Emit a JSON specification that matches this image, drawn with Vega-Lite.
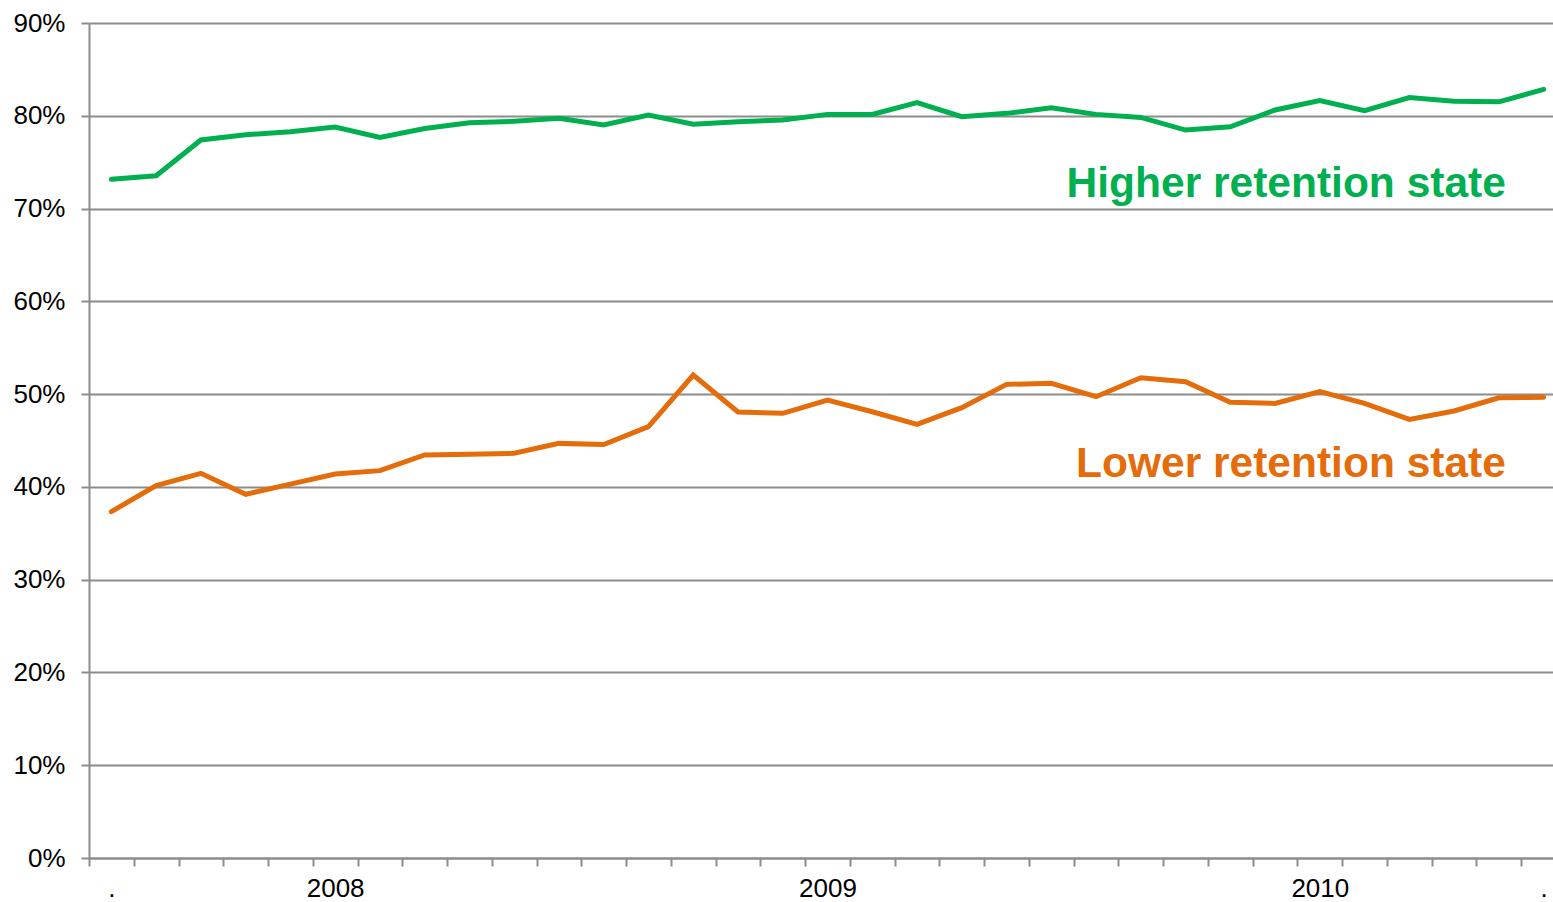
{
  "$schema": "https://vega.github.io/schema/vega-lite/v6.json",
  "autosize": {"type": "none"},
  "padding": {"left": 89, "top": 23, "right": 0, "bottom": 44},
  "width": 1464,
  "height": 835,
  "background": "white",
  "config": {"view": {"stroke": null}, "font": "Liberation Sans"},
  "data": {"values": [
    {"i": 0, "series": "Higher retention state", "value": 0.7315},
    {"i": 1, "series": "Higher retention state", "value": 0.7354},
    {"i": 2, "series": "Higher retention state", "value": 0.7739},
    {"i": 3, "series": "Higher retention state", "value": 0.7796},
    {"i": 4, "series": "Higher retention state", "value": 0.7828},
    {"i": 5, "series": "Higher retention state", "value": 0.7879},
    {"i": 6, "series": "Higher retention state", "value": 0.7767},
    {"i": 7, "series": "Higher retention state", "value": 0.7863},
    {"i": 8, "series": "Higher retention state", "value": 0.7925},
    {"i": 9, "series": "Higher retention state", "value": 0.794},
    {"i": 10, "series": "Higher retention state", "value": 0.7972},
    {"i": 11, "series": "Higher retention state", "value": 0.79},
    {"i": 12, "series": "Higher retention state", "value": 0.8007},
    {"i": 13, "series": "Higher retention state", "value": 0.791},
    {"i": 14, "series": "Higher retention state", "value": 0.7935},
    {"i": 15, "series": "Higher retention state", "value": 0.7954},
    {"i": 16, "series": "Higher retention state", "value": 0.8015},
    {"i": 17, "series": "Higher retention state", "value": 0.8015},
    {"i": 18, "series": "Higher retention state", "value": 0.8141},
    {"i": 19, "series": "Higher retention state", "value": 0.799},
    {"i": 20, "series": "Higher retention state", "value": 0.8026},
    {"i": 21, "series": "Higher retention state", "value": 0.8086},
    {"i": 22, "series": "Higher retention state", "value": 0.8015},
    {"i": 23, "series": "Higher retention state", "value": 0.7982},
    {"i": 24, "series": "Higher retention state", "value": 0.7846},
    {"i": 25, "series": "Higher retention state", "value": 0.7882},
    {"i": 26, "series": "Higher retention state", "value": 0.8062},
    {"i": 27, "series": "Higher retention state", "value": 0.8164},
    {"i": 28, "series": "Higher retention state", "value": 0.8054},
    {"i": 29, "series": "Higher retention state", "value": 0.8197},
    {"i": 30, "series": "Higher retention state", "value": 0.8157},
    {"i": 31, "series": "Higher retention state", "value": 0.815},
    {"i": 32, "series": "Higher retention state", "value": 0.8284},
    {"i": 0, "series": "Lower retention state", "value": 0.3733},
    {"i": 1, "series": "Lower retention state", "value": 0.4013},
    {"i": 2, "series": "Lower retention state", "value": 0.4146},
    {"i": 3, "series": "Lower retention state", "value": 0.392},
    {"i": 4, "series": "Lower retention state", "value": 0.403},
    {"i": 5, "series": "Lower retention state", "value": 0.4139},
    {"i": 6, "series": "Lower retention state", "value": 0.4175},
    {"i": 7, "series": "Lower retention state", "value": 0.4344},
    {"i": 8, "series": "Lower retention state", "value": 0.4351},
    {"i": 9, "series": "Lower retention state", "value": 0.4362},
    {"i": 10, "series": "Lower retention state", "value": 0.4469},
    {"i": 11, "series": "Lower retention state", "value": 0.4457},
    {"i": 12, "series": "Lower retention state", "value": 0.4649},
    {"i": 13, "series": "Lower retention state", "value": 0.5206},
    {"i": 14, "series": "Lower retention state", "value": 0.4807},
    {"i": 15, "series": "Lower retention state", "value": 0.4793},
    {"i": 16, "series": "Lower retention state", "value": 0.4936},
    {"i": 17, "series": "Lower retention state", "value": 0.481},
    {"i": 18, "series": "Lower retention state", "value": 0.4674},
    {"i": 19, "series": "Lower retention state", "value": 0.4854},
    {"i": 20, "series": "Lower retention state", "value": 0.5105},
    {"i": 21, "series": "Lower retention state", "value": 0.5116},
    {"i": 22, "series": "Lower retention state", "value": 0.4972},
    {"i": 23, "series": "Lower retention state", "value": 0.5177},
    {"i": 24, "series": "Lower retention state", "value": 0.5134},
    {"i": 25, "series": "Lower retention state", "value": 0.4911},
    {"i": 26, "series": "Lower retention state", "value": 0.49},
    {"i": 27, "series": "Lower retention state", "value": 0.5026},
    {"i": 28, "series": "Lower retention state", "value": 0.49},
    {"i": 29, "series": "Lower retention state", "value": 0.4728},
    {"i": 30, "series": "Lower retention state", "value": 0.4818},
    {"i": 31, "series": "Lower retention state", "value": 0.4961},
    {"i": 32, "series": "Lower retention state", "value": 0.4965}
  ]},
  "encoding": {
    "x": {
      "field": "i",
      "type": "ordinal",
      "scale": {"type": "band", "paddingInner": 0, "paddingOuter": 0, "range": [0, 1477]},
      "axis": {
        "title": null,
        "tickBand": "extent",
        "labelExpr": "datum.value == 0 || datum.value == 32 ? '.' : datum.value == 5 ? '2008' : datum.value == 16 ? '2009' : datum.value == 27 ? '2010' : ''",
        "labelAngle": 0,
        "labelFontSize": 26,
        "labelColor": "#000000",
        "labelPadding": 9,
        "labelOverlap": false,
        "labelBound": false,
        "labelFlush": false,
        "tickSize": 8,
        "tickColor": "#8c8c8c",
        "tickWidth": 2,
        "domainColor": "#8c8c8c",
        "domainWidth": 2,
        "grid": false
      }
    },
    "y": {
      "field": "value",
      "type": "quantitative",
      "scale": {"domain": [0, 0.9], "nice": false, "zero": true},
      "axis": {
        "title": null,
        "values": [0, 0.1, 0.2, 0.3, 0.4, 0.5, 0.6, 0.7, 0.8, 0.9],
        "format": ".0%",
        "labelFontSize": 26,
        "labelColor": "#000000",
        "labelPadding": 16,
        "labelOverlap": false,
        "labelFlush": false,
        "labelBound": false,
        "tickSize": 8,
        "tickColor": "#8c8c8c",
        "tickWidth": 2,
        "domainColor": "#8c8c8c",
        "domainWidth": 2,
        "grid": true,
        "gridColor": "#8c8c8c",
        "gridWidth": 2
      }
    },
    "color": {
      "field": "series",
      "type": "nominal",
      "scale": {"domain": ["Higher retention state", "Lower retention state"], "range": ["#00B050", "#E46C0A"]},
      "legend": null
    }
  },
  "layer": [
    {
      "mark": {"type": "line", "strokeWidth": 5, "strokeCap": "round", "strokeJoin": "miter"}
    },
    {
      "transform": [{"filter": "datum.i == 31 && datum.series == 'Higher retention state'"}],
      "mark": {"type": "text", "align": "right", "baseline": "alphabetic", "dx": 7, "fontSize": 42.5, "fontWeight": "bold"},
      "encoding": {
        "y": {"datum": 0.7125, "type": "quantitative"},
        "text": {"field": "series", "type": "nominal"}
      }
    },
    {
      "transform": [{"filter": "datum.i == 31 && datum.series == 'Lower retention state'"}],
      "mark": {"type": "text", "align": "right", "baseline": "alphabetic", "dx": 7, "fontSize": 42.5, "fontWeight": "bold"},
      "encoding": {
        "y": {"datum": 0.411, "type": "quantitative"},
        "text": {"field": "series", "type": "nominal"}
      }
    }
  ]
}
